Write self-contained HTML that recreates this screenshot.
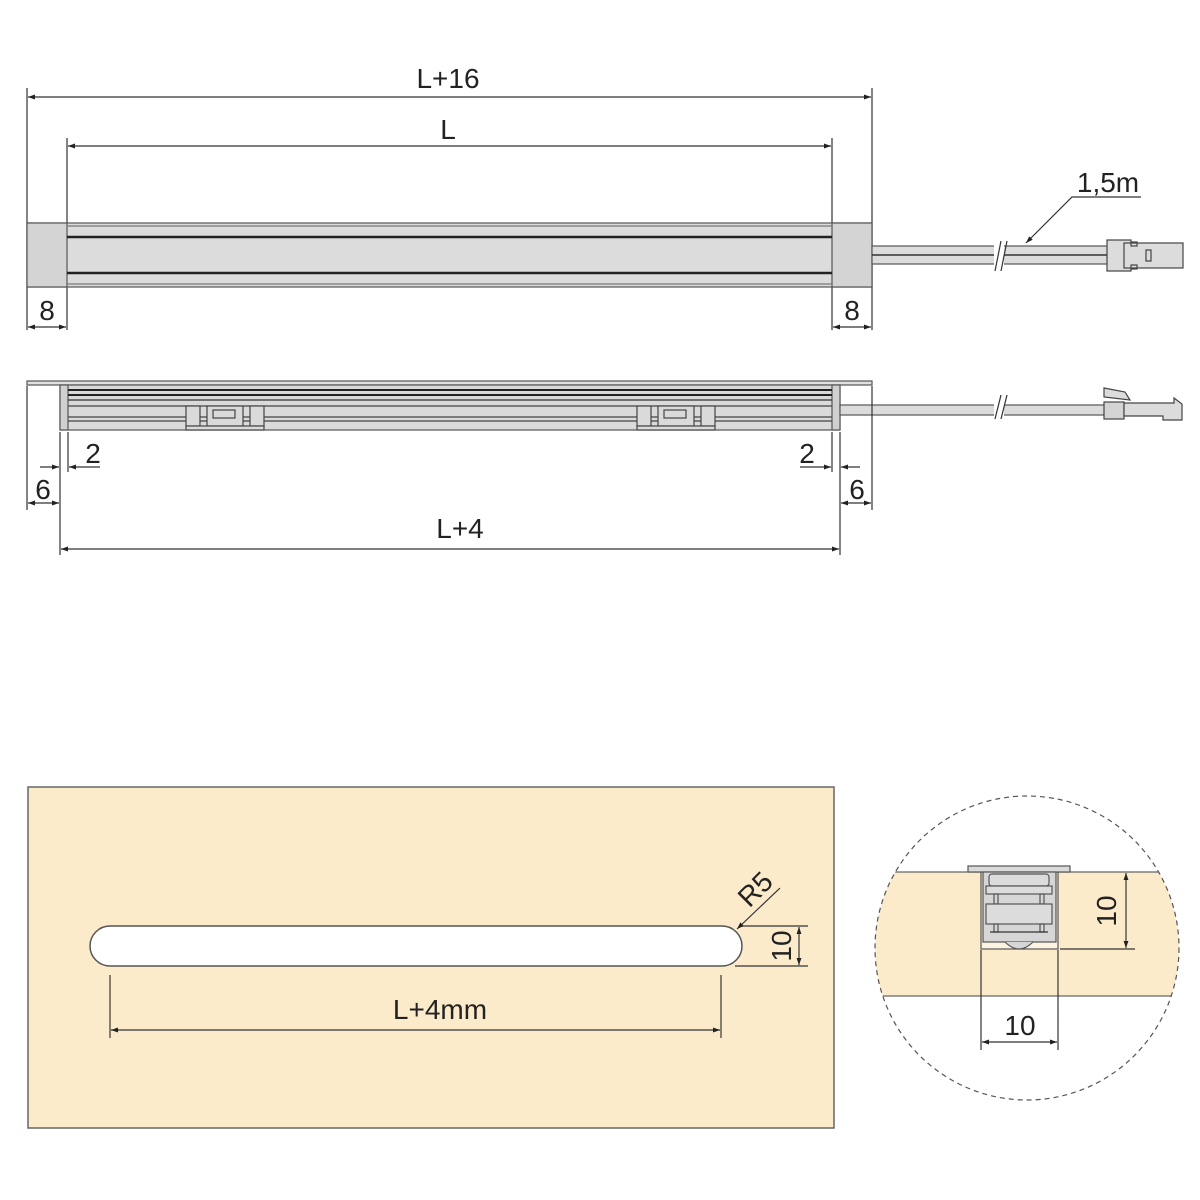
<!DOCTYPE html>
<html><head><meta charset="utf-8"><style>
html,body{margin:0;padding:0;background:#fff}
svg{display:block}
text{font-family:"Liberation Sans",sans-serif;fill:#222}
</style></head><body>
<svg width="1200" height="1200" viewBox="0 0 1200 1200" xmlns="http://www.w3.org/2000/svg">
<defs>
<marker id="a" viewBox="0 0 10 10" refX="10" refY="5" markerWidth="11" markerHeight="7" orient="auto-start-reverse" markerUnits="userSpaceOnUse"><path d="M0,1.5 L10,5 L0,8.5z" fill="#222"/></marker>
<clipPath id="cc"><circle cx="1027" cy="948" r="152"/></clipPath>
</defs>
<g stroke="#333" stroke-width="1.2" fill="none">
<line x1="27" y1="88" x2="27" y2="330"/><line x1="872" y1="88" x2="872" y2="330"/>
<line x1="67" y1="138" x2="67" y2="330"/><line x1="832" y1="138" x2="832" y2="330"/>
<line x1="28" y1="97" x2="871" y2="97" marker-start="url(#a)" marker-end="url(#a)"/>
<line x1="68" y1="146" x2="831" y2="146" marker-start="url(#a)" marker-end="url(#a)"/>
<rect x="27" y="223" width="845" height="64" fill="#dcdcdc" stroke="#555"/>
<rect x="27" y="223" width="40" height="64" fill="#d4d4d4" stroke="#555"/>
<rect x="832" y="223" width="40" height="64" fill="#d4d4d4" stroke="#555"/>
<line x1="67" y1="237" x2="832" y2="237" stroke="#222" stroke-width="2.5"/>
<line x1="67" y1="273" x2="832" y2="273" stroke="#222" stroke-width="2.5"/>
<line x1="67" y1="226" x2="832" y2="226" stroke="#777"/>
<line x1="67" y1="284" x2="832" y2="284" stroke="#777"/>
<line x1="28" y1="327" x2="66" y2="327" marker-start="url(#a)" marker-end="url(#a)"/>
<line x1="833" y1="327" x2="871" y2="327" marker-start="url(#a)" marker-end="url(#a)"/>
<rect x="872" y="246" width="236" height="18" fill="#dcdcdc" stroke="#555"/>
<line x1="872" y1="255" x2="1108" y2="255" stroke="#333" stroke-width="1.5"/>
<rect x="994" y="240" width="10" height="30" fill="#fff" stroke="none"/>
<line x1="995" y1="271" x2="1001" y2="241"/><line x1="1001" y1="271" x2="1007" y2="241"/>
<rect x="1107" y="240" width="24" height="31" fill="#dcdcdc" stroke="#444"/>
<rect x="1124" y="243" width="59" height="25" fill="#dcdcdc" stroke="#444"/>
<rect x="1146" y="250" width="5" height="11" stroke="#444"/>
<rect x="1131" y="242" width="6" height="4" stroke="#444"/><rect x="1131" y="265" width="6" height="4" stroke="#444"/>
<polyline points="1141,197 1072,197 1026,243" marker-end="url(#a)"/>
<rect x="27" y="381" width="845" height="4" fill="#e0e0e0" stroke="#555"/>
<rect x="60" y="385" width="780" height="45" fill="#dadada" stroke="#555"/>
<rect x="60" y="385" width="8" height="45" fill="#d0d0d0" stroke="#555"/>
<rect x="832" y="385" width="8" height="45" fill="#d0d0d0" stroke="#555"/>
<line x1="68" y1="390" x2="832" y2="390" stroke="#222" stroke-width="2"/>
<line x1="68" y1="395" x2="832" y2="395" stroke="#222" stroke-width="2"/>
<line x1="68" y1="400" x2="832" y2="400" stroke="#333"/>
<line x1="68" y1="406" x2="832" y2="406" stroke="#444"/>
<line x1="68" y1="417" x2="832" y2="417" stroke="#444"/>
<line x1="68" y1="421" x2="832" y2="421" stroke="#444"/>
<g id="clip1" fill="#dadada" stroke="#444">
<rect x="186" y="406" width="14" height="20"/><rect x="250" y="406" width="14" height="20"/>
<rect x="207" y="406" width="36" height="20"/><rect x="213" y="410" width="22" height="8"/>
<rect x="186" y="426" width="78" height="4"/>
</g>
<use href="#clip1" x="451"/>
<rect x="840" y="405" width="268" height="10" fill="#dcdcdc" stroke="#555"/>
<rect x="994" y="398" width="10" height="25" fill="#fff" stroke="none"/>
<line x1="995" y1="419" x2="1001" y2="395"/><line x1="1001" y1="419" x2="1007" y2="395"/>
<rect x="1104" y="402" width="20" height="17" fill="#d4d4d4" stroke="#444"/>
<polygon points="1124,403 1174,403 1174,398 1182,404 1182,420 1163,420 1163,416 1124,416" fill="#dcdcdc" stroke="#444"/>
<polygon points="1104,388 1125,392 1130,400 1104,397" fill="#dcdcdc" stroke="#444"/>
<line x1="60" y1="432" x2="60" y2="555"/><line x1="840" y1="432" x2="840" y2="555"/>
<line x1="27" y1="386" x2="27" y2="510"/><line x1="872" y1="386" x2="872" y2="510"/>
<line x1="68" y1="432" x2="68" y2="472"/><line x1="832" y1="432" x2="832" y2="472"/>
<line x1="40" y1="467" x2="59" y2="467" marker-end="url(#a)"/><line x1="100" y1="467" x2="69" y2="467" marker-end="url(#a)"/>
<line x1="800" y1="467" x2="831" y2="467" marker-end="url(#a)"/><line x1="860" y1="467" x2="841" y2="467" marker-end="url(#a)"/>
<line x1="28" y1="503" x2="59" y2="503" marker-start="url(#a)" marker-end="url(#a)"/>
<line x1="841" y1="503" x2="871" y2="503" marker-start="url(#a)" marker-end="url(#a)"/>
<line x1="61" y1="549" x2="839" y2="549" marker-start="url(#a)" marker-end="url(#a)"/>
<rect x="28" y="787" width="806" height="341" fill="#fcebcb" stroke="#666" stroke-width="1.5"/>
<rect x="90" y="926" width="652" height="40" rx="20" fill="#fff" stroke="#555" stroke-width="1.5"/>
<line x1="110" y1="975" x2="110" y2="1038"/><line x1="721" y1="975" x2="721" y2="1038"/>
<line x1="111" y1="1030" x2="720" y2="1030" marker-start="url(#a)" marker-end="url(#a)"/>
<line x1="740" y1="926" x2="808" y2="926"/><line x1="735" y1="966" x2="808" y2="966"/>
<line x1="799" y1="927" x2="799" y2="965" marker-start="url(#a)" marker-end="url(#a)"/>
<line x1="780" y1="888" x2="737" y2="929" marker-end="url(#a)"/>
<g clip-path="url(#cc)">
<rect x="870" y="872" width="320" height="124" fill="#fcebcb" stroke="none"/>
<line x1="870" y1="872" x2="1190" y2="872" stroke="#666"/>
<line x1="870" y1="996" x2="1190" y2="996" stroke="#666"/>
<rect x="981" y="872" width="77" height="77" fill="#fdf3e0" stroke="#555"/>
<rect x="968" y="866" width="102" height="6" fill="#dadada" stroke="#555"/>
<rect x="983" y="872" width="73" height="70" fill="#d6d6d6" stroke="#555"/>
<rect x="989" y="874" width="60" height="12" rx="3" fill="#dcdcdc" stroke="#555"/>
<rect x="986" y="886" width="66" height="8" fill="#dcdcdc" stroke="#555"/>
<rect x="994" y="894" width="4" height="10" stroke="#555"/><rect x="1040" y="894" width="4" height="10" stroke="#555"/>
<rect x="986" y="904" width="66" height="20" fill="#dcdcdc" stroke="#555"/>
<rect x="994" y="924" width="4" height="8" stroke="#555"/><rect x="1040" y="924" width="4" height="8" stroke="#555"/>
<line x1="990" y1="932" x2="1048" y2="932"/>
<path d="M1005,942 Q1019,956 1033,942" fill="#d6d6d6" stroke="#555"/>
<line x1="981" y1="950" x2="981" y2="1050"/><line x1="1058" y1="950" x2="1058" y2="1050"/>
<line x1="1060" y1="949" x2="1135" y2="949"/>
</g>
<circle cx="1027" cy="948" r="152" stroke="#555" stroke-dasharray="5,4"/>
<line x1="1126" y1="873" x2="1126" y2="948" marker-start="url(#a)" marker-end="url(#a)"/>
<line x1="982" y1="1042" x2="1057" y2="1042" marker-start="url(#a)" marker-end="url(#a)"/>
</g>
<g font-size="28">
<text x="448" y="88" text-anchor="middle">L+16</text>
<text x="448" y="139" text-anchor="middle">L</text>
<text x="47" y="320" text-anchor="middle">8</text>
<text x="852" y="320" text-anchor="middle">8</text>
<text x="1108" y="192" text-anchor="middle">1,5m</text>
<text x="93" y="463" text-anchor="middle">2</text>
<text x="807" y="463" text-anchor="middle">2</text>
<text x="43" y="499" text-anchor="middle">6</text>
<text x="857" y="499" text-anchor="middle">6</text>
<text x="460" y="538" text-anchor="middle">L+4</text>
<text x="440" y="1019" text-anchor="middle">L+4mm</text>
<text transform="translate(791,946) rotate(-90)" text-anchor="middle">10</text>
<text transform="translate(762,896) rotate(-45)" text-anchor="middle">R5</text>
<text transform="translate(1116,911) rotate(-90)" text-anchor="middle">10</text>
<text x="1020" y="1035" text-anchor="middle">10</text>
</g>
</svg>
</body></html>
